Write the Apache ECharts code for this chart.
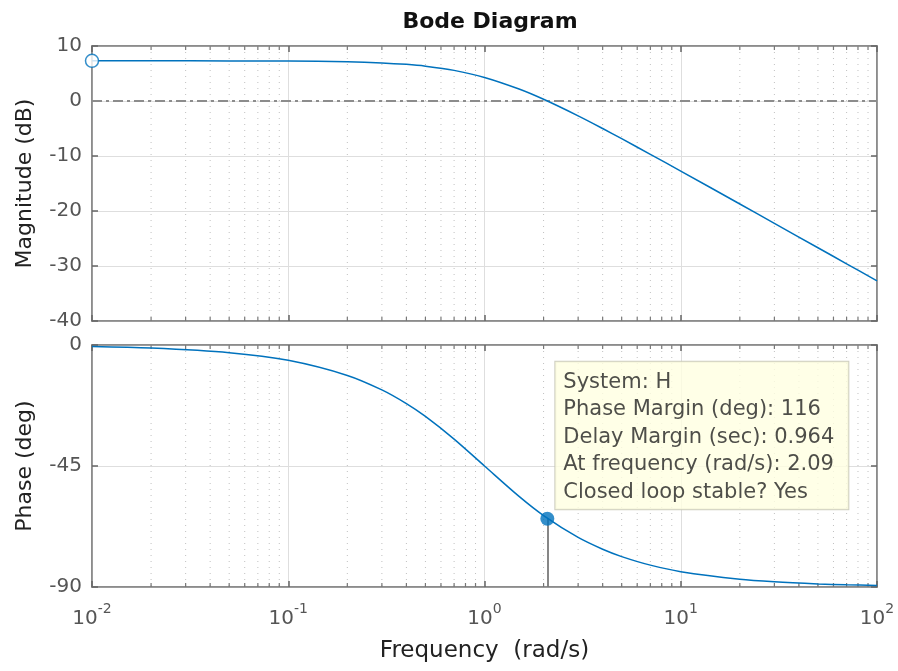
<!DOCTYPE html>
<html>
<head>
<meta charset="utf-8">
<script src="https://cdn.jsdelivr.net/npm/echarts@6/dist/echarts.min.js"></script>
<style>
  html, body { margin: 0; padding: 0; background: #fff; }
  #chart { width: 898px; height: 671px; }
</style>
</head>
<body>
<div id="chart"></div>
<script>
// frequency points (rad/s)
var freq = [0.01, 0.02, 0.05, 0.1, 0.2, 0.3, 0.4, 0.5, 0.7, 1, 1.5, 2, 3, 4, 5, 7, 10, 20, 30, 50, 70, 100];
// magnitude (dB)
var magDb = [7.3, 7.3, 7.29, 7.26, 7.13, 6.93, 6.66, 6.33, 5.57, 4.29, 2.18, 0.31, -2.7, -5.0, -6.85, -9.69, -12.74, -18.73, -22.25, -26.68, -29.6, -32.7];
// phase (deg)
var phaseDeg = [-0.57, -1.15, -2.86, -5.71, -11.31, -16.7, -21.8, -26.57, -34.99, -45, -56.31, -63.43, -71.57, -75.96, -78.69, -81.87, -84.29, -87.14, -88.09, -88.85, -89.18, -89.43];

// minor grid positions (2..9 in each decade)
var minorFreq = [];
[0.01, 0.1, 1, 10].forEach(function(d){
  for (var k = 2; k <= 9; k++) minorFreq.push(+(k * d).toPrecision(3));
});

// margin point + datatip
var pmFreq = 2.09;
var pmPhase = -64.6;
var startPoint = [0.01, 7.3];
var tipLines = [
  'System: H',
  'Phase Margin (deg): 116',
  'Delay Margin (sec): 0.964',
  'At frequency (rad/s): 2.09',
  'Closed loop stable? Yes'
];

var blue = '#0072BD';
var axisGray = '#858585';
var txtGray = '#555';
var dark = '#222';
var font = '"DejaVu Sans", "Liberation Sans", sans-serif';

var chart = echarts.init(document.getElementById('chart'));

function xAx(gridIndex, pos, labels){
  return {
    type: 'log', logBase: 10, gridIndex: gridIndex, position: pos,
    min: 0.01, max: 100,
    axisLine: { show: true, onZero: false, lineStyle: { color: axisGray, width: 1.5 } },
    axisTick: { show: true, inside: true, length: 6, lineStyle: { color: '#666', width: 1.5 } },
    splitLine: { show: pos === 'bottom', lineStyle: { color: '#dedede', width: 1 } },
    axisLabel: labels ? {
      show: true, margin: 20, showMinLabel: true, showMaxLabel: true,
      formatter: function(v){
        var e = Math.round(Math.log10(v));
        return '{b|10}{s|' + e + '}';
      },
      rich: {
        b: { fontSize: 20, fontFamily: font, color: txtGray, lineHeight: 22, verticalAlign: 'bottom' },
        s: { fontSize: 14, fontFamily: font, color: txtGray, lineHeight: 14, verticalAlign: 'bottom', padding: [0, 0, 13, 0] }
      }
    } : { show: false },
    name: labels ? 'Frequency  (rad/s)' : '',
    nameLocation: 'middle', nameGap: 53,
    nameTextStyle: { fontSize: 23, fontFamily: font, color: dark }
  };
}

function yAx(gridIndex, pos, min, max, step, name){
  var left = pos === 'left';
  return {
    type: 'value', gridIndex: gridIndex, position: pos,
    min: min, max: max, interval: step,
    axisLine: { show: true, onZero: false, lineStyle: { color: axisGray, width: 1.5 } },
    axisTick: { show: true, inside: true, length: 6, lineStyle: { color: '#666', width: 1.5 } },
    splitLine: { show: left, lineStyle: { color: '#dedede', width: 1 } },
    axisLabel: { show: left, margin: 10, fontSize: 20, fontFamily: font, color: txtGray,
                 showMinLabel: true, showMaxLabel: true },
    name: left ? name : '',
    nameLocation: 'middle', nameGap: 56,
    nameTextStyle: { fontSize: 22, fontFamily: font, color: dark }
  };
}

function minorGrid(xi, yi){
  return {
    type: 'custom', xAxisIndex: xi, yAxisIndex: yi, silent: true, z: 1,
    data: minorFreq.map(function(f){ return [f, 0]; }),
    renderItem: function(params, api){
      var cs = params.coordSys;
      var x = api.coord([api.value(0), 0])[0];
      var top = cs.y, bot = cs.y + cs.height;
      return {
        type: 'group',
        children: [
          { type: 'line', shape: { x1: x, y1: top, x2: x, y2: bot },
            style: { stroke: '#c0c0c0', lineWidth: 1, lineDash: [1, 5] } },
          { type: 'line', shape: { x1: x, y1: top, x2: x, y2: top + 4 },
            style: { stroke: '#777', lineWidth: 1.2 } },
          { type: 'line', shape: { x1: x, y1: bot - 4, x2: x, y2: bot },
            style: { stroke: '#777', lineWidth: 1.2 } }
        ]
      };
    }
  };
}

var option = {
  animation: false,
  backgroundColor: '#fff',
  title: {
    text: 'Bode Diagram', left: 485, top: 6, textAlign: 'center',
    textStyle: { fontSize: 22, fontWeight: 'bold', fontFamily: font, color: '#111' }
  },
  grid: [
    { left: 92, top: 46, width: 785, height: 275, show: true, borderColor: axisGray, borderWidth: 1.5, backgroundColor: 'transparent', outerBoundsMode: 'none' },
    { left: 92, top: 345, width: 785, height: 242, show: true, borderColor: axisGray, borderWidth: 1.5, backgroundColor: 'transparent', outerBoundsMode: 'none' }
  ],
  xAxis: [
    xAx(0, 'bottom', false),
    xAx(0, 'top', false),
    xAx(1, 'bottom', true),
    xAx(1, 'top', false)
  ],
  yAxis: [
    yAx(0, 'left', -40, 10, 10, 'Magnitude (dB)'),
    yAx(0, 'right', -40, 10, 10, ''),
    yAx(1, 'left', -90, 0, 45, 'Phase (deg)'),
    yAx(1, 'right', -90, 0, 45, '')
  ],
  series: [
    minorGrid(0, 0),
    minorGrid(2, 2),
    {
      type: 'line', xAxisIndex: 0, yAxisIndex: 0, z: 5,
      data: freq.map(function(f, i){ return [f, magDb[i]]; }),
      smooth: 0.3, showSymbol: false,
      lineStyle: { color: blue, width: 1.5 },
      markLine: {
        silent: true, symbol: 'none', label: { show: false },
        lineStyle: { color: '#8c8c8c', width: 1.8, type: [10, 4, 3, 4] },
        data: [{ yAxis: 0 }]
      }
    },
    {
      type: 'scatter', xAxisIndex: 0, yAxisIndex: 0, z: 6, clip: false,
      data: [startPoint], symbolSize: 13,
      itemStyle: { color: '#fff', borderColor: blue, borderWidth: 1.5 }
    },
    {
      type: 'line', xAxisIndex: 2, yAxisIndex: 2, z: 5,
      data: freq.map(function(f, i){ return [f, phaseDeg[i]]; }),
      smooth: 0.3, showSymbol: false,
      lineStyle: { color: blue, width: 1.5 },
      markLine: {
        silent: true, symbol: 'none', label: { show: false },
        lineStyle: { color: '#7a7a7a', width: 1.8, type: 'solid' },
        data: [[{ coord: [pmFreq, pmPhase] }, { coord: [pmFreq, -90] }]]
      }
    },
    {
      type: 'scatter', xAxisIndex: 2, yAxisIndex: 2, z: 7, clip: false,
      data: [[pmFreq, pmPhase]], symbolSize: 14,
      itemStyle: { color: blue },
      label: {
        show: true, position: [15, -150], align: 'left', verticalAlign: 'top',
        formatter: tipLines.join('\n'),
        fontSize: 21, lineHeight: 27.5, fontFamily: font, color: dark,
        backgroundColor: '#ffffe1', borderColor: '#c2c2b0', borderWidth: 1,
        padding: [7, 8, 3, 8], width: 277
      }
    }
  ]
};
chart.setOption(option);
</script>
</body>
</html>
